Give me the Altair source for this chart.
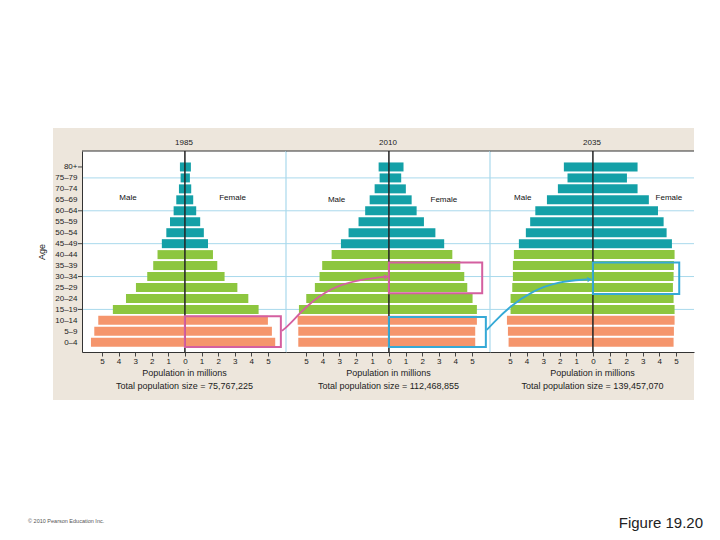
import altair as alt
import pandas as pd

# ---------------- data ----------------
ages = ["0–4", "5–9", "10–14", "15–19", "20–24", "25–29", "30–34", "35–39",
        "40–44", "45–49", "50–54", "55–59", "60–64", "65–69", "70–74", "75–79", "80+"]
years = ["1985", "2010", "2035"]
totals = ["75,767,225", "112,468,855", "139,457,070"]

male_1985 = [5.66, 5.46, 5.22, 4.34, 3.55, 2.95, 2.27, 1.91, 1.65, 1.39, 1.12, 0.90, 0.68, 0.52, 0.36, 0.26, 0.30]
female_1985 = [5.44, 5.24, 5.00, 4.44, 3.82, 3.16, 2.39, 1.95, 1.69, 1.39, 1.14, 0.92, 0.68, 0.50, 0.38, 0.30, 0.36]
male_2010 = [5.46, 5.46, 5.50, 5.42, 4.98, 4.46, 4.18, 4.02, 3.45, 2.89, 2.43, 1.83, 1.43, 1.16, 0.86, 0.56, 0.62]
female_2010 = [5.20, 5.20, 5.30, 5.30, 5.04, 4.72, 4.54, 4.30, 3.82, 3.33, 2.80, 2.11, 1.67, 1.37, 1.02, 0.74, 0.88]
male_2035 = [5.08, 5.12, 5.18, 4.96, 4.96, 4.86, 4.82, 4.82, 4.76, 4.46, 4.04, 3.78, 3.47, 2.77, 2.11, 1.53, 1.75]
female_2035 = [4.86, 4.88, 4.92, 4.92, 4.86, 4.82, 4.86, 4.88, 4.92, 4.76, 4.44, 4.26, 3.92, 3.37, 2.69, 2.05, 2.69]

males = [male_1985, male_2010, male_2035]
females = [female_1985, female_2010, female_2035]
age_class = ["pre"] * 3 + ["repro"] * 6 + ["post"] * 8
grid_rows = [3, 6, 9, 12, 15]
tick_rows = [3, 6, 9, 12, 16]

# ---------------- style ----------------
TEAL = "#14a0a7"
GREEN = "#8dc63f"
SALMON = "#f5956c"
BG = "#ede6dc"
GRID = "#a9d9ec"
PINK = "#d45fa0"
BLUE = "#35a9d6"
INK = "#222222"
FONT = "Liberation Sans"

W, H = 204, 201
XD = [-6.2, 6.09]
YD = [-0.43, 17.0]

one = pd.DataFrame({"k": [0]})

label_expr = "[" + ",".join("'%s'" % a for a in ages) + "][datum.value]"

# annotation settings per panel
sex_labels = [(-3.43, 2.87, 13.2), (-3.15, 3.31, 13.0), (-4.23, 4.58, 13.2)]
boxes = [
    [(5.78, -0.43, 2.38, PINK)],
    [(5.62, 4.47, 7.28, PINK), (5.84, -0.43, 2.3, BLUE)],
    [(5.2, 4.4, 7.27, BLUE)],
]
arrows = [
    None,
    (PINK, [-6.45, -6.08, -4.88, -3.49, -2.05, -0.3], [1.04, 1.47, 3.47, 4.94, 5.64, 5.97], (-0.15, 5.98)),
    (BLUE, [-6.39, -6.08, -5.06, -3.67, -2.05, -0.35], [1.13, 1.65, 3.21, 4.68, 5.55, 5.74], (-0.2, 5.75)),
]


def panel(i):
    df = pd.DataFrame({
        "idx": list(range(17)) * 2,
        "value": [-v for v in males[i]] + females[i],
        "cls": age_class * 2,
    })
    xs = alt.Scale(domain=XD, nice=False, zero=False)
    ys = alt.Scale(domain=YD, nice=False, zero=False)
    xaxis = alt.Axis(
        values=list(range(-5, 6)), labelExpr="abs(datum.value)",
        title=["Population in millions", "Total population size = " + totals[i]],
        grid=False, labelFontSize=8, labelColor=INK, labelFont=FONT, labelOverlap=False,
        tickSize=4, tickColor="#444", domainColor="#333", labelPadding=1,
        titleFont=FONT, titleFontSize=9, titleFontWeight="normal", titleColor=INK,
        titlePadding=3, titleLineHeight=13, zindex=2,
    )
    if i == 0:
        yaxis = alt.Axis(
            values=list(range(17)), labelExpr=label_expr, title="Age",
            grid=False, labelFontSize=8, labelColor=INK, labelFont=FONT, labelOverlap=False,
            ticks=False, domainColor="#333", labelPadding=5,
            titleFont=FONT, titleFontSize=9, titleFontWeight="normal", titleColor=INK,
            titlePadding=8, zindex=2,
        )
    else:
        yaxis = None

    def X(field=None, datum=None):
        if field is not None:
            return alt.X(field, scale=xs, axis=xaxis)
        return alt.XDatum(datum, scale=xs, axis=xaxis)

    def Y(field=None, datum=None):
        if field is not None:
            return alt.Y(field, scale=ys, axis=yaxis)
        return alt.YDatum(datum, scale=ys, axis=yaxis)

    layers = []
    if i == 0:
        layers.append(alt.Chart(one).mark_rect(color="white").encode(
            x=alt.value(-74), x2=alt.value(630), y=alt.value(-143), y2=alt.value(381)))
        layers.append(alt.Chart(one).mark_rect(color=BG).encode(
            x=alt.value(-29), x2=alt.value(612), y=alt.value(-23), y2=alt.value(249)))
        layers.append(alt.Chart(one).mark_rect(color="white").encode(
            x=alt.value(0), x2=alt.value(W), y=alt.value(0), y2=alt.value(H)))
        layers.append(alt.Chart(one).mark_text(
            text="© 2010 Pearson Education Inc.", font=FONT, fontSize=5.5, color="#555",
            align="left", baseline="middle").encode(x=alt.value(-54), y=alt.value(370)))
        layers.append(alt.Chart(one).mark_text(
            text="Figure 19.20", font=FONT, fontSize=15, color="#222",
            align="right", baseline="middle").encode(x=alt.value(621), y=alt.value(372)))
        # small dark ticks on the age axis
        layers.append(alt.Chart(pd.DataFrame({"idx": tick_rows})).mark_rule(color="#444", strokeWidth=1).encode(
            y=Y("idx:Q"), x=alt.value(-4), x2=alt.value(0)))

    # year label in the band above the panel
    layers.append(alt.Chart(one).mark_text(
        text=years[i], font=FONT, fontSize=8, color=INK, baseline="middle").encode(
        x=alt.value(W / 2), y=alt.value(-8)))

    layers.append(alt.Chart(pd.DataFrame({"idx": grid_rows})).mark_rule(color=GRID, strokeWidth=1).encode(
        y=Y("idx:Q"), x=alt.value(0), x2=alt.value(W)))
    if i > 0:
        layers.append(alt.Chart(one).mark_rule(color=GRID, strokeWidth=1.2).encode(
            x=alt.value(0), y=alt.value(0), y2=alt.value(H)))
    layers.append(alt.Chart(one).mark_rule(color="#333", strokeWidth=1.2).encode(
        y=alt.value(0), x=alt.value(0), x2=alt.value(W)))

    layers.append(alt.Chart(df).mark_bar(orient="horizontal", size=9).encode(
        x=X("value:Q"),
        y=Y("idx:Q"),
        color=alt.Color("cls:N", scale=alt.Scale(domain=["pre", "repro", "post"],
                                                 range=[SALMON, GREEN, TEAL]), legend=None),
    ))
    layers.append(alt.Chart(one).mark_rule(color="#222", strokeWidth=1.5).encode(
        x=X(datum=0), y=alt.value(0), y2=alt.value(H)))

    mx, fx, ly = sex_labels[i]
    layers.append(alt.Chart(one).mark_text(text="Male", font=FONT, fontSize=8, color="#111").encode(
        x=X(datum=mx), y=Y(datum=ly)))
    layers.append(alt.Chart(one).mark_text(text="Female", font=FONT, fontSize=8, color="#111").encode(
        x=X(datum=fx), y=Y(datum=ly)))

    for (xr, y0, y1, col) in boxes[i]:
        layers.append(alt.Chart(one).mark_rect(fillOpacity=0, stroke=col, strokeWidth=2).encode(
            x=X(datum=0), x2=alt.X2Datum(xr), y=Y(datum=y0), y2=alt.Y2Datum(y1)))

    if arrows[i] is not None:
        col, axs, ays, (hx, hy) = arrows[i]
        adf = pd.DataFrame({"value": axs, "idx": ays, "o": list(range(len(axs)))})
        layers.append(alt.Chart(adf).mark_line(color=col, strokeWidth=1.8, interpolate="basis").encode(
            x=X("value:Q"), y=Y("idx:Q"), order="o:Q"))
        layers.append(alt.Chart(one).mark_point(shape="triangle-right", filled=True, size=28,
                                                color=col, opacity=1, angle=352).encode(
            x=X(datum=hx), y=Y(datum=hy)))

    return alt.layer(*layers).properties(width=W, height=H)


chart = alt.hconcat(panel(0), panel(1), panel(2), spacing=0, bounds="flush").properties(
    padding=0
).configure_view(fill="white", stroke=None).configure_axis(zindex=2)

chart.save("out.html", embed_options={"renderer": "svg", "actions": False})
